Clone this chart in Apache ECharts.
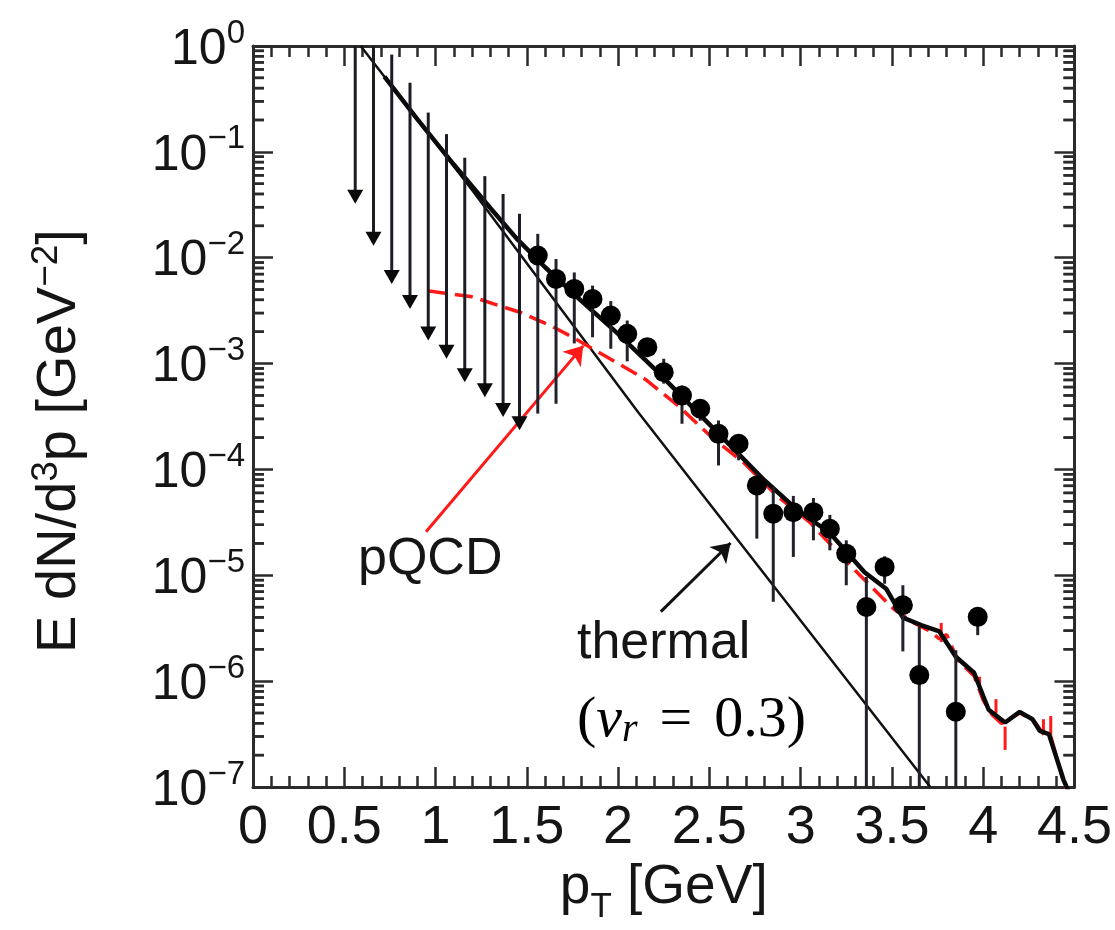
<!DOCTYPE html>
<html>
<head>
<meta charset="utf-8">
<script src="https://cdn.jsdelivr.net/npm/echarts@6/dist/echarts.min.js"></script>
<style>
  html, body { margin: 0; padding: 0; background: #fff; }
  #chart { width: 1115px; height: 930px; }
</style>
</head>
<body>
<div id="chart"></div>
<script>
// ---- measured photon spectrum (pT in GeV, E dN/d^3p in GeV^-2) ----
const pointPt   = [1.56, 1.66, 1.76, 1.86, 1.96, 2.05, 2.16, 2.25, 2.35, 2.45, 2.55, 2.66,
                   2.76, 2.85, 2.96, 3.07, 3.16, 3.25, 3.36, 3.46, 3.56, 3.65, 3.85, 3.97];
const pointVal  = [1.05e-2, 6.31e-3, 5.07e-3, 4.07e-3, 2.84e-3, 1.91e-3, 1.43e-3, 8.28e-4, 4.99e-4, 3.74e-4, 2.17e-4, 1.75e-4,
                   7.06e-5, 3.82e-5, 3.95e-5, 3.95e-5, 2.75e-5, 1.60e-5, 5.02e-6, 1.20e-5, 5.21e-6, 1.14e-6, 5.14e-7, 4.05e-6];
const pointHigh = [1.68e-2, 9.73e-3, 7.26e-3, 5.45e-3, 3.89e-3, 2.55e-3, 1.74e-3, 1.11e-3, 6.19e-4, 4.57e-4, 2.90e-4, 2.09e-4,
                   9.12e-5, 6.81e-5, 5.62e-5, 5.37e-5, 3.72e-5, 2.14e-5, 9.64e-6, 1.51e-5, 8.05e-6, 3.25e-6, 1.96e-6, 4.90e-6];
const pointLow  = [3.37e-4, 4.17e-4, 1.55e-3, 1.77e-3, 1.38e-3, 1.05e-3, 1.15e-3, 6.46e-4, 2.70e-4, 2.88e-4, 1.09e-4, 1.22e-4,
                   2.22e-5, 5.62e-6, 1.49e-5, 2.14e-5, 1.72e-5, 8.05e-6, 1e-8, 8.32e-6, 1.91e-6, 1e-8, 1e-8, 2.72e-6];

// ---- upper limits at low pT: bar top and arrow tip ----
const limitPt  = [0.56, 0.66, 0.76, 0.86, 0.96, 1.06, 1.16, 1.27, 1.37, 1.46];
const limitTop = [1.0, 1.0, 0.83, 0.45, 0.235, 0.147, 8.8e-2, 5.9e-2, 4.0e-2, 2.6e-2];
const limitVal = [3.24e-2, 1.30e-2, 5.65e-3, 3.28e-3, 1.65e-3, 1.11e-3, 6.67e-4, 4.81e-4, 3.12e-4, 2.34e-4];

// ---- model curves ----
const thermalPt  = [0.59, 1.2, 2.11, 2.64, 3.71];
const thermalVal = [1.0, 4.37e-2, 3.47e-4, 2.34e-5, 1.0e-7];

const pqcdPt  = [0.965, 1.2, 1.47, 1.64, 1.75, 1.96, 2.15, 2.33, 2.51, 2.69, 2.87, 3.05, 3.29, 3.51,
                 3.62, 3.70, 3.76, 3.80, 3.86, 3.95, 4.0, 4.05, 4.10, 4.2, 4.28, 4.33, 4.37, 4.44, 4.46];
const pqcdVal = [4.85e-3, 4.27e-3, 3.02e-3, 2.24e-3, 1.78e-3, 1.10e-3, 7.08e-4, 3.98e-4, 2.04e-4, 1.15e-4, 5.62e-5, 3.16e-5, 1.15e-5, 4.79e-6,
                 3.55e-6, 3.02e-6, 2.51e-6, 2.75e-6, 1.58e-6, 1.12e-6, 6.6e-7, 4.79e-7, 3.98e-7, 5.0e-7, 4.17e-7, 3.16e-7, 3.02e-7, 1.12e-7, 8.9e-8];
// statistical spread of the pQCD calculation at high pT
const pqcdErrPt   = [3.77, 3.98, 4.07, 4.12, 4.33, 4.37];
const pqcdErrLow  = [2.34e-6, 8.3e-7, 5.0e-7, 2.24e-7, 3.16e-7, 2.63e-7];
const pqcdErrHigh = [3.55e-6, 1.10e-6, 6.76e-7, 3.72e-7, 4.37e-7, 4.68e-7];

const totalPt  = [0.72, 0.9, 1.1, 1.3, 1.45, 1.6, 1.8, 2.0, 2.2, 2.4, 2.63, 2.80, 2.98, 3.16, 3.35, 3.47, 3.56,
                  3.66, 3.76, 3.85, 3.95, 4.00, 4.03, 4.12, 4.20, 4.27, 4.31, 4.36, 4.44, 4.47];
const totalVal = [0.513, 0.204, 7.59e-2, 2.95e-2, 1.48e-2, 8.13e-3, 3.89e-3, 1.91e-3, 8.9e-4, 3.98e-4, 1.58e-4, 7.94e-5, 4.17e-5, 2.51e-5, 1.07e-5, 7.41e-6, 3.98e-6,
                  3.39e-6, 2.95e-6, 1.70e-6, 1.20e-6, 7.24e-7, 5.37e-7, 4.07e-7, 5.13e-7, 4.37e-7, 3.39e-7, 3.16e-7, 1.17e-7, 8.9e-8];

// ---- axes ----
const xMin = 0, xMax = 4.5, xStep = 0.5;
const yMin = 1e-7, yMax = 1;
const yDecadeExps = [0, -1, -2, -3, -4, -5, -6, -7];
const yMinorMultipliers = [2, 3, 4, 5, 6, 7, 8, 9];

const AXIS = '#2b2b2b';
const TEXT = '#151515';
const SANS = '"Liberation Sans", Arial, sans-serif';
const SERIF = '"Liberation Serif", "DejaVu Serif", serif';

const zip2 = (a, b) => a.map((x, i) => [x, b[i]]);
const zip3 = (a, b, c) => a.map((x, i) => [x, b[i], c[i]]);

// values of the log minor ticks (2..9 within each decade)
const minorTickValues = [];
yDecadeExps.slice(1).forEach(e => yMinorMultipliers.forEach(m => minorTickValues.push(m * Math.pow(10, e))));

const supLabel = e => (e === 0 ? '0' : '\u2212' + (-e));

// frame with inward ticks on the vertical edges
const logAxis = (position, labelled) => ({
  type: 'log', logBase: 10, min: yMin, max: yMax, splitNumber: 7, position,
  axisLine: { show: true, onZero: false, lineStyle: { color: AXIS, width: 3 } },
  axisTick: { show: true, inside: true, length: 20, lineStyle: { color: AXIS, width: 2.5 } },
  minorTick: { show: false },
  splitLine: { show: false },
  axisLabel: labelled ? {
    show: true, margin: 8,
    formatter: v => '{b|10}{s|' + supLabel(Math.round(Math.log10(v))) + '}',
    rich: {
      b: { fontSize: 50, fontFamily: SANS, color: TEXT, verticalAlign: 'bottom' },
      s: { fontSize: 33, fontFamily: SANS, color: TEXT, verticalAlign: 'bottom', padding: [0, 0, 25, 0] }
    }
  } : { show: false }
});
const linAxis = (position, labelled) => ({
  type: 'value', min: xMin, max: xMax, interval: xStep, position,
  axisLine: { show: true, onZero: false, lineStyle: { color: AXIS, width: 3 } },
  axisTick: { show: true, inside: true, length: 20, lineStyle: { color: AXIS, width: 2.5 } },
  minorTick: { show: true, splitNumber: 5, length: 11, lineStyle: { color: AXIS, width: 2.5 } },
  splitLine: { show: false },
  axisLabel: labelled ? { show: true, margin: 14, fontSize: 54, fontFamily: SANS, color: TEXT,
                          formatter: v => String(Math.round(v * 10) / 10) } : { show: false }
});
// short inward minor-tick marks along one vertical edge of the frame
const minorTickSeries = (edgeX, inward) => ({
  name: 'minor ticks', type: 'scatter', silent: true, clip: false, z: 2,
  data: minorTickValues.map(v => [edgeX, v]),
  symbol: 'rect', symbolSize: [11, 2.5], symbolOffset: [inward * 5.5, 0],
  itemStyle: { color: AXIS, opacity: 1 },
  emphasis: { disabled: true }
});
// the same minor ticks as filled bars, laid out through the axis scale
const minorTickShapes = api => {
  const shapes = [];
  minorTickValues.forEach(v => {
    const l = api.coord([xMin, v]);
    const r = api.coord([xMax, v]);
    shapes.push(
      { type: 'rect', shape: { x: l[0], y: l[1] - 1.25, width: 11, height: 2.5 }, style: { fill: AXIS } },
      { type: 'rect', shape: { x: r[0] - 11, y: r[1] - 1.25, width: 11, height: 2.5 }, style: { fill: AXIS } }
    );
  });
  return shapes;
};

const chart = echarts.init(document.getElementById('chart'), null, { renderer: 'canvas' });

const option = {
  backgroundColor: '#fff',
  animation: false,
  grid: { left: 253, right: 35, top: 46, bottom: 143, containLabel: false },
  xAxis: [
    Object.assign(linAxis('bottom', true), {
      name: '{p|p}{s|T}{p| [GeV]}', nameLocation: 'middle', nameGap: 71,
      nameTextStyle: {
        color: TEXT,
        rich: {
          p: { fontSize: 55, fontFamily: SANS, color: TEXT, verticalAlign: 'bottom', padding: [0, 0, 10, 0] },
          s: { fontSize: 35, fontFamily: SANS, color: TEXT, verticalAlign: 'bottom' }
        }
      }
    }),
    linAxis('top', false)
  ],
  yAxis: [logAxis('left', true), logAxis('right', false)],
  series: [
    minorTickSeries(xMin, 1),
    minorTickSeries(xMax, -1),
    {
      name: 'thermal', type: 'line', data: zip2(thermalPt, thermalVal), showSymbol: false, symbol: 'none',
      lineStyle: { color: '#111', width: 2.5 }, z: 3, silent: true,
      markLine: {
        silent: true, symbol: ['none', 'arrow'], symbolSize: 18, animation: false,
        label: { show: false },
        lineStyle: { color: '#111', width: 3, type: 'solid' },
        data: [[{ coord: [2.234, 4.54e-6] }, { coord: [2.616, 2.02e-5] }]]
      }
    },
    {
      name: 'pQCD', type: 'line', data: zip2(pqcdPt, pqcdVal), showSymbol: false, symbol: 'none',
      lineStyle: { color: '#ff1a1a', width: 3.5, type: [18, 8] }, z: 4, silent: true,
      markLine: {
        silent: true, symbol: ['none', 'arrow'], symbolSize: 18, animation: false,
        label: { show: false },
        lineStyle: { color: '#ff1a1a', width: 3, type: 'solid' },
        data: [[{ coord: [0.948, 2.58e-5] }, { coord: [1.809, 1.47e-3] }]]
      }
    },
    {
      name: 'pQCD spread', type: 'custom', silent: true, clip: true, z: 4,
      encode: { x: 0, y: [1, 2] },
      data: zip3(pqcdErrPt, pqcdErrLow, pqcdErrHigh),
      renderItem: (params, api) => {
        const lo = api.coord([api.value(0), api.value(1)]);
        const hi = api.coord([api.value(0), api.value(2)]);
        return { type: 'line', shape: { x1: lo[0], y1: lo[1], x2: hi[0], y2: hi[1] },
                 style: { stroke: '#ff1a1a', lineWidth: 3 } };
      }
    },
    {
      name: 'total', type: 'line', data: zip2(totalPt, totalVal), showSymbol: false, symbol: 'none',
      lineStyle: { color: '#0a0a0a', width: 4.5 }, z: 5, silent: true
    },
    {
      name: 'upper limits', type: 'custom', silent: true, clip: true, z: 6,
      encode: { x: 0, y: [1, 2] },
      data: zip3(limitPt, limitTop, limitVal),
      renderItem: (params, api) => {
        const top = api.coord([api.value(0), api.value(1)]);
        const tip = api.coord([api.value(0), api.value(2)]);
        const h = 14, w = 8;
        return { type: 'group', children: [
          { type: 'line', shape: { x1: top[0], y1: top[1], x2: tip[0], y2: tip[1] - h + 2 },
            style: { stroke: '#1c1c24', lineWidth: 3 } },
          { type: 'polygon', shape: { points: [[tip[0] - w, tip[1] - h], [tip[0] + w, tip[1] - h], [tip[0], tip[1]]] },
            style: { fill: '#0a0a0a' } }
        ] };
      }
    },
    {
      name: 'error bars', type: 'custom', silent: true, clip: false, z: 6,
      encode: { x: 0, y: [1, 2] },
      data: zip3(pointPt, pointLow, pointHigh),
      renderItem: (params, api) => {
        const yBottom = api.coord([xMin, yMin])[1];
        const yTop = api.coord([xMin, yMax])[1];
        const lo = api.coord([api.value(0), api.value(1)]);
        const hi = api.coord([api.value(0), api.value(2)]);
        const bar = { type: 'line',
                      shape: { x1: lo[0], y1: Math.min(lo[1], yBottom), x2: hi[0], y2: Math.max(hi[1], yTop) },
                      style: { stroke: '#22222c', lineWidth: 3 } };
        const children = [bar];
        if (params.dataIndex === 0) children.push(...minorTickShapes(api));
        return { type: 'group', children };
      }
    },
    {
      name: 'data', type: 'scatter', data: zip2(pointPt, pointVal), symbol: 'circle', symbolSize: 20,
      itemStyle: { color: '#000', opacity: 1 }, z: 7, silent: true
    }
  ],
  graphic: [
    // vertical axis title
    { type: 'text', x: 60, y: 441, rotation: Math.PI / 2, silent: true,
      style: {
        text: 'E dN/d{s|3}p [GeV{s|\u22122}]', align: 'center', verticalAlign: 'middle',
        fontSize: 56, fontFamily: SANS, fill: TEXT,
        rich: {
          s: { fontSize: 37, fontFamily: SANS, color: TEXT, verticalAlign: 'bottom', padding: [0, 0, 26, 0] }
        }
      } },
    { type: 'text', x: 358, y: 560, silent: true,
      style: { text: 'pQCD', fontSize: 52, fontFamily: SANS, fill: TEXT, align: 'left', verticalAlign: 'middle' } },
    { type: 'text', x: 577, y: 644, silent: true,
      style: { text: 'thermal', fontSize: 52, fontFamily: SANS, fill: TEXT, align: 'left', verticalAlign: 'middle' } },
    { type: 'text', x: 577, y: 721, silent: true,
      style: {
        text: '{p|(}{v|v}{r|r}{e|=}{p|0.3)}', align: 'left', verticalAlign: 'middle',
        rich: {
          p: { fontSize: 58, fontFamily: SERIF, color: TEXT, verticalAlign: 'bottom' },
          v: { fontSize: 58, fontFamily: SERIF, fontStyle: 'italic', color: TEXT, verticalAlign: 'bottom' },
          r: { fontSize: 40, fontFamily: SERIF, fontStyle: 'italic', color: TEXT, verticalAlign: 'bottom' },
          e: { fontSize: 58, fontFamily: SERIF, color: TEXT, verticalAlign: 'bottom', padding: [0, 22, 0, 22] }
        }
      } }
  ]
};

chart.setOption(option);
</script>
</body>
</html>
